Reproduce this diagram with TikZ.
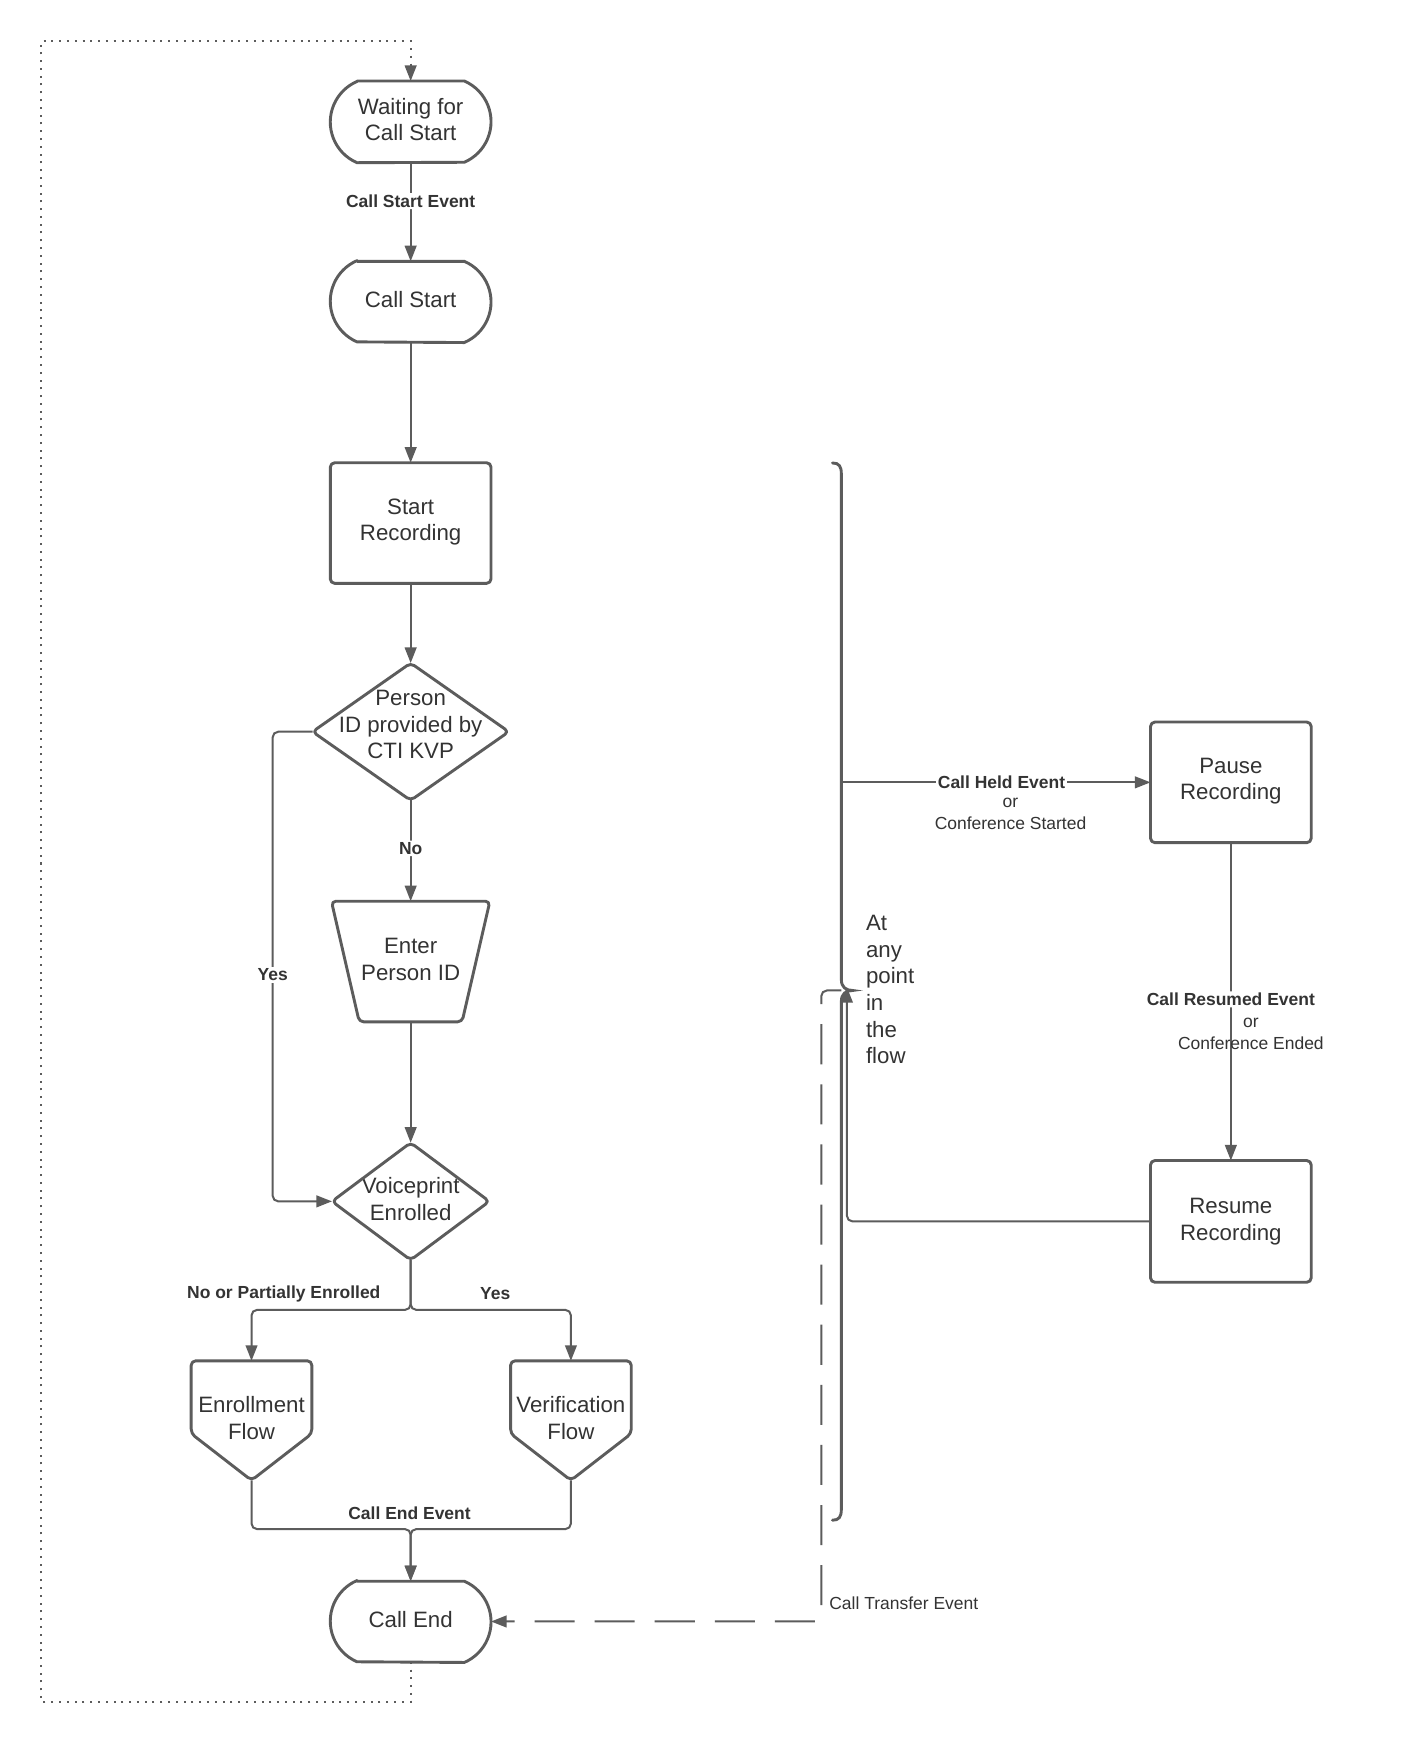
\documentclass[tikz,border=0pt]{standalone}
\usepackage{fontspec}
\setmainfont{Liberation Sans}
\usetikzlibrary{arrows.meta}
\definecolor{lc}{RGB}{92,92,92}
\definecolor{tc}{RGB}{51,51,51}
\newcommand\drawTermOutline[1]{%
  \draw[shp] ([xshift=24pt]#1.north west) -- ([xshift=-24pt]#1.north east)
    arc[start angle=-66.7, end angle=66.7, radius=39.75]
    -- ([xshift=24pt]#1.south west)
    arc[start angle=113.3, end angle=246.7, radius=39.75] -- cycle;}
\begin{document}
\begin{tikzpicture}[x=1pt,y=-1pt,
  box/.style={draw=none, minimum width=144, minimum height=108, inner sep=0pt},
  txt/.style={inner sep=0pt, align=center, text=tc, font=\fontsize{20}{24}\selectfont},
  shp/.style={draw=lc, line width=2.6pt, line join=round},
  conn/.style={draw=lc, line width=1.8pt, rounded corners=5pt,
    -{Triangle[length=14pt,width=10.5pt]}},
  dashconn/.style={conn, dash pattern=on 36pt off 18pt, dash phase=8pt},
  dotconn/.style={draw=lc, line width=1.8pt, dash pattern=on 1.8pt off 5.2pt,
    -{Triangle[length=14pt,width=10.5pt]}},
  lbl/.style={fill=white, inner sep=1.5pt, text=tc,
    font=\fontsize{15.7}{19.5}\selectfont\bfseries},
  blbl/.style={inner sep=0pt, text=tc, font=\fontsize{15.7}{19.5}\selectfont\bfseries},
  small/.style={inner sep=0pt, text=tc, align=center, font=\fontsize{15.7}{19.5}\selectfont},
  bracestyle/.style={draw=lc, line width=2.6pt, line cap=round}
]
\fill[white] (0,0) rectangle (1268,1568);
\useasboundingbox (0,0) rectangle (1268,1568);

% shape nodes
\node[box, minimum height=73] (wait) at (369,109.5) {};
\node[box, minimum height=72] (cstart) at (369,271) {};
\node[box] (srec) at (369,470) {};
\node[box, minimum width=176, minimum height=123] (pid) at (369,657.5) {};
\node[box, minimum width=142] (enter) at (369,864) {};
\node[box, minimum width=141, minimum height=105] (vp) at (369,1079.5) {};
\node[box, minimum width=108, minimum height=107] (enr) at (226,1276.5) {};
\node[box, minimum width=108, minimum height=107] (ver) at (513,1276.5) {};
\node[box, minimum height=72] (cend) at (369,1457) {};
\node[box] (pause) at (1106,703) {};
\node[box, minimum height=109] (resume) at (1106,1097.5) {};

% texts
\node[txt] (waitT) at ([yshift=2pt]wait.center) {Waiting for\\Call Start};
\node[txt] (cstartT) at ([yshift=2pt]cstart.center) {Call Start};
\node[txt] (srecT) at ([yshift=1pt]srec.center) {Start\\Recording};
\node[txt] (pidT) at ([yshift=6.5pt]pid.center) {Person\\ID provided by\\CTI KVP};
\node[txt] (enterT) at ([yshift=2pt]enter.center) {Enter\\Person ID};
\node[txt] (vpT) at ([yshift=2pt]vp.center) {Voiceprint\\Enrolled};
\node[txt] (enrT) at ([yshift=2pt]enr.center) {Enrollment\\Flow};
\node[txt] (verT) at ([yshift=2pt]ver.center) {Verification\\Flow};
\node[txt] (cendT) at ([yshift=2pt]cend.center) {Call End};
\node[txt] (pauseT) at ([yshift=1pt]pause.center) {Pause\\Recording};
\node[txt] (resumeT) at (resume.center) {Resume\\Recording};
\node[txt, anchor=north west, align=left] (anyp) at (778,822) {At\\any\\point\\in\\the\\flow};

% outlines
\drawTermOutline{wait}
\drawTermOutline{cstart}
\drawTermOutline{cend}
\draw[shp, rounded corners=4pt] (srec.north west) rectangle (srec.south east);
\draw[shp, rounded corners=4pt] (pause.north west) rectangle (pause.south east);
\draw[shp, rounded corners=4pt] (resume.north west) rectangle (resume.south east);
\draw[shp, rounded corners=4pt] (pid.north) -- (pid.east) -- (pid.south) -- (pid.west) -- cycle;
\draw[shp, rounded corners=4pt] (vp.north) -- (vp.east) -- (vp.south) -- (vp.west) -- cycle;
\draw[shp, rounded corners=4pt] (enter.north west) -- (enter.north east)
  -- ([xshift=-25pt]enter.south east) -- ([xshift=25pt]enter.south west) -- cycle;
\draw[shp, rounded corners=4pt] (enr.north west) -- (enr.north east)
  -- ([yshift=42pt]enr.south east) -- (enr.south) -- ([yshift=42pt]enr.south west) -- cycle;
\draw[shp, rounded corners=4pt] (ver.north west) -- (ver.north east)
  -- ([yshift=42pt]ver.south east) -- (ver.south) -- ([yshift=42pt]ver.south west) -- cycle;

% brace
\coordinate (braceTip) at (756,890);
\draw[bracestyle] (748,416) .. controls (754,416) and (756,419) .. (756,426)
  -- (756,880) .. controls (756,887) and (760,890) .. (766,890)
  .. controls (760,890) and (756,893) .. (756,900)
  -- (756,1356) .. controls (756,1363) and (754,1366) .. (748,1366);

% connectors
\draw[conn] (wait.south) -- node[lbl, pos=0.39]{Call Start Event} (cstart.north);
\draw[conn] (cstart.south) -- (srec.north);
\draw[conn] (srec.south) -- (pid.north);
\draw[conn] (pid.south) -- node[lbl, pos=0.475]{No} (enter.north);
\draw[conn] (enter.south) -- (vp.north);
\draw[conn] (pid.west) -- (245,657.5) -- node[lbl, pos=0.518]{Yes} (245,1079.5) -- (vp.west);
\coordinate (split) at (369,1177);
\draw[conn] (vp.south) -- (split) -| (enr.north);
\draw[conn] (vp.south) -- (split) -| (ver.north);
\node[blbl] (lblno) at (255,1162.5) {No or Partially Enrolled};
\node[blbl] (lblyes) at (445,1162) {Yes};
\coordinate (merge) at (369,1374);
\draw[conn] (enr.south) |- (merge) -- (cend.north);
\draw[conn] (ver.south) |- (merge) -- (cend.north);
\node[blbl] (lblend) at (368,1360) {Call End Event};

% dotted loop
\draw[dotconn] (cend.south) -- (369,1529) -- (37,1529) -- (37,37) -- (369,37) -- (wait.north);

% right part
\coordinate (heldStart) at (756,703);
\draw[conn] (heldStart) -- node[lbl, pos=0.518]{Call Held Event} (pause.west);
\node[small, anchor=north] (heldor) at (908,717) {or\\Conference Started};
\draw[conn] (pause.south) -- node[lbl, pos=0.493]{Call Resumed Event} (resume.north);
\node[small, anchor=north] (resor) at (1124,915) {or\\Conference Ended};
\coordinate (resEnd) at (761,887);
\draw[conn] (resume.west) -| (resEnd);

% transfer
\draw[dashconn] (braceTip) -- (738,890) -- (738,1457) -- (cend.east);
\node[small, anchor=west] (lbltr) at (745,1441) {Call Transfer Event};
\end{tikzpicture}
\end{document}
